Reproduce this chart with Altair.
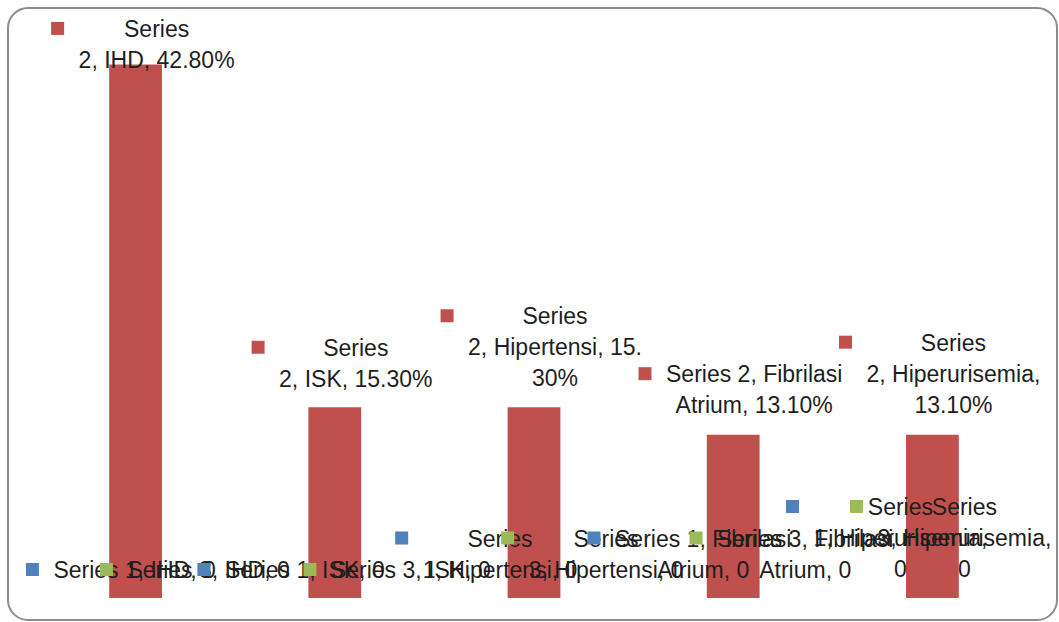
import altair as alt
import pandas as pd

# ---- data -------------------------------------------------------------
categories = ["IHD", "ISK", "Hipertensi", "Fibrilasi Atrium", "Hiperurisemia"]
series1 = [0, 0, 0, 0, 0]
series2 = [42.8, 15.3, 15.3, 13.1, 13.1]
series3 = [0, 0, 0, 0, 0]

# ---- styling ----------------------------------------------------------
SERIES_COLORS = {1: "#4F81BD", 2: "#C0504D", 3: "#9BBB59"}
FONT = "Liberation Sans"
FONT_SIZE = 23
LINE_H = 31
TEXT_COLOR = "#1e1e1e"
KEY_SIZE = 13          # side of the legend-key square in a data label
KEY_GAP = 21           # key centre to left edge of the label text

# data-label placement: (series, category) -> (dx, dy of text block centre, line breaks)
LABEL_LAYOUT = {
    (2, "IHD"): (21, -19, [6]),
    (2, "ISK"): (21, -43, [6]),
    (2, "Hipertensi"): (21, -59, [6, 25]),
    (2, "Fibrilasi Atrium"): (21, -44, [19]),
    (2, "Hiperurisemia"): (21, -60, [6, 24]),
    (1, "IHD"): (-1, -27, []),
    (3, "IHD"): (73, -27, []),
    (1, "ISK"): (-30, -27, []),
    (3, "ISK"): (76, -27, []),
    (1, "Hipertensi"): (-34, -43, [6]),
    (3, "Hipertensi"): (72, -43, [6]),
    (1, "Fibrilasi Atrium"): (-30, -43, [19]),
    (3, "Fibrilasi Atrium"): (72, -43, [19]),
    (1, "Hiperurisemia"): (-32, -59, [6, 24]),
    (3, "Hiperurisemia"): (32, -59, [6, 24]),
}

# Arial/Liberation Sans advance widths (per 1000 em) for sizing label text
_W = {" ": 278, ",": 278, ".": 278, "%": 889, "A": 667, "D": 722, "F": 611,
      "H": 722, "I": 278, "K": 667, "S": 667, "a": 556, "b": 556, "e": 556,
      "i": 222, "l": 222, "m": 833, "n": 556, "p": 556, "r": 333, "s": 500,
      "t": 278, "u": 556}


def text_width(s):
    return sum(_W.get(c, 556) for c in s) / 1000 * FONT_SIZE


def fmt(v):
    return "0" if v == 0 else f"{v:.2f}%"


def split_lines(s, breaks):
    cuts = [0] + breaks + [len(s)]
    return [s[a:b].strip() for a, b in zip(cuts[:-1], cuts[1:])]


x_enc = alt.X("category:N", sort=categories, axis=None,
              scale=alt.Scale(domain=categories, range=[36, 1032],
                              paddingInner=0.735, paddingOuter=0.3675))
y_enc = alt.Y("value:Q", axis=None,
              scale=alt.Scale(domain=[0, 45], range=[598, 37]))

# rounded chart frame
frame = alt.Chart(pd.DataFrame({"f": [0]})).mark_rect(
    fill="white", stroke="#8c8c8c", strokeWidth=2, cornerRadius=20
).encode(x=alt.value(8), x2=alt.value(1057), y=alt.value(8), y2=alt.value(620))

bars_df = pd.DataFrame({"category": categories, "value": series2})
bars = alt.Chart(bars_df).mark_bar(color=SERIES_COLORS[2]).encode(x=x_enc, y=y_enc)

layers = [frame, bars]
values = {1: series1, 2: series2, 3: series3}
for i, cat in enumerate(categories):
    for s in (1, 2, 3):
        v = values[s][i]
        dx, dy, breaks = LABEL_LAYOUT[(s, cat)]
        lines = split_lines(f"Series {s}, {cat}, {fmt(v)}", breaks)
        row = pd.DataFrame({"category": [cat], "value": [v], "label": ["\n".join(lines)]})
        n = len(lines)
        widest = max(text_width(t) for t in lines)
        first_dy = dy - (n - 1) / 2 * LINE_H     # centre of the first text line
        key_dx = dx - widest / 2 - KEY_GAP
        key_dy = first_dy - 1.5
        txt = alt.Chart(row).mark_text(
            align="center", baseline="middle", lineBreak="\n", lineHeight=LINE_H,
            font=FONT, fontSize=FONT_SIZE, color=TEXT_COLOR, dx=dx, dy=first_dy
        ).encode(x=x_enc, y=y_enc, text="label:N")
        key = alt.Chart(row).mark_square(
            size=KEY_SIZE * KEY_SIZE, filled=True, opacity=1,
            color=SERIES_COLORS[s], xOffset=key_dx, yOffset=key_dy
        ).encode(x=x_enc, y=y_enc)
        layers += [txt, key]

chart = alt.layer(*layers).properties(
    width=1059, height=622, padding=0, autosize="none", background="white"
).configure_view(strokeWidth=0)

chart.save("out.html", embed_options={"renderer": "svg", "actions": False})
